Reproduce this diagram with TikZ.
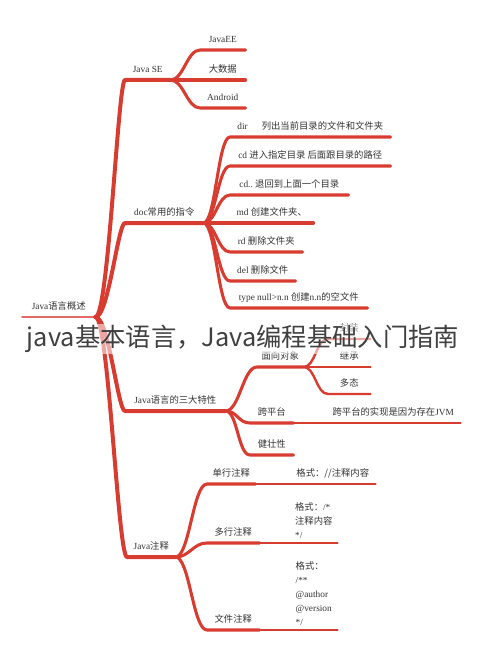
\documentclass[tikz,border=0pt]{standalone}
\usepackage{fontspec}
\setmainfont{Liberation Serif}
\newfontfamily\cjkfont{Noto Sans CJK SC}
\newcommand\zh[1]{{\cjkfont #1}}
\definecolor{mapred}{HTML}{D83B2F}

\begin{document}
\begin{tikzpicture}[x=0.75pt, y=-0.75pt,
        lbl/.style={anchor=south west, minimum width=#1*0.75pt, inner xsep=0pt,
                    inner ysep=3.5pt, text depth=2pt, text=black!80,
                    font=\fontsize{7}{8.5}\selectfont},
        note/.style={anchor=south west, minimum width=#1*0.75pt, inner xsep=0pt,
                     inner ysep=3pt, align=left, text=black!80,
                     font=\fontsize{7}{10.5}\selectfont},
        rt/.style={draw=mapred!75, line width=1.4pt, line cap=round},
        tr/.style={draw=mapred, line width=3pt, line cap=round, line join=round},
        br/.style={draw=mapred, line width=2.3pt, line cap=round, line join=round},
        lf/.style={draw=mapred, line width=1.8pt, line cap=round, line join=round},
        fan/.style={to path={.. controls +(#1,0) and +(-#1,0) .. (\tikztotarget)}},
        title/.style={font=\cjkfont\fontsize{19}{22}\selectfont, text=black!75,
                      fill=white, fill opacity=0.55, text opacity=1, inner sep=1pt}]
      \useasboundingbox (0,0) rectangle (490,663);
      % root and first level
      \node[lbl=73] (root) at (22,317) {Java\zh{语言概述}};
      \node[lbl=45] (javase) at (125,80) {Java SE};
      \node[lbl=78] (doc) at (125,223) {doc\zh{常用的指令}};
      \node[lbl=100] (feat) at (125,411) {Java\zh{语言的三大特性}};
      \node[lbl=48] (cmt) at (127,557) {Java\zh{注释}};
      % Java SE
      \node[lbl=45] (javaee) at (200,50) {JavaEE};
      \node[lbl=45] (bigdata) at (200,80) {\zh{大数据}};
      \node[lbl=45] (android) at (200,108) {Android};
      % doc
      \node[lbl=160] (dir) at (230,137) {dir\hspace{1.5em}\zh{列出当前目录的文件和文件夹}};
      \node[lbl=160] (cd) at (230,166) {cd \zh{进入指定目录 后面跟目录的路径}};
      \node[lbl=118] (cdup) at (230,195) {cd..\ \zh{退回到上面一个目录}};
      \node[lbl=83] (md) at (230,223) {md \zh{创建文件夹、}};
      \node[lbl=72] (rd) at (230,252) {rd \zh{删除文件夹}};
      \node[lbl=65] (del) at (230,281) {del \zh{删除文件}};
      \node[lbl=137] (type) at (230,308) {type null>n.n \zh{创建}n.n\zh{的空文件}};
      % features
      \node[lbl=46] (oop) at (257,367) {\zh{面向对象}};
      \node[lbl=43] (cross) at (250,423) {\zh{跨平台}};
      \node[lbl=43] (robust) at (250,455) {\zh{健壮性}};
      \node[lbl=42] (encap) at (328,339) {\zh{封装}};
      \node[lbl=42] (inherit) at (328,367) {\zh{继承}};
      \node[lbl=42] (poly) at (328,394) {\zh{多态}};
      \node[lbl=134] (jvm) at (326,423) {\zh{跨平台的实现是因为存在}JVM};
      % comments
      \node[lbl=48] (single) at (207,484) {\zh{单行注释}};
      \node[lbl=52] (multi) at (207,543) {\zh{多行注释}};
      \node[lbl=52] (file) at (207,630) {\zh{文件注释}};
      \node[lbl=85] (fmtone) at (290,484) {\zh{格式：//注释内容}};
      \node[note=47] (fmttwo) at (290,543) {\zh{格式：}/*\\\zh{注释内容}\\*/};
      \node[note=47] (fmtthree) at (290,630) {\zh{格式：}\\/**\\@author\\@version\\*/};

      \draw[rt] (root.south west) -- (root.south east);
      \draw[tr] (root.south east) .. controls +(13,0) and +(-7,0) .. (javase.south west) -- (javase.south east);
      \draw[tr] (root.south east) .. controls +(13,0) and +(-7,0) .. (doc.south west) -- (doc.south east);
      \draw[tr] (root.south east) .. controls +(13,0) and +(-7,0) .. (feat.south west) -- (feat.south east);
      \draw[tr] (root.south east) .. controls +(13,0) and +(-9,0) .. (cmt.south west) -- (cmt.south east);

      \draw[br] (javase.south east) to[fan=13] (javaee.south west) -- (javaee.south east);
      \draw[br] (javase.south east) to[fan=13] (bigdata.south west) -- (bigdata.south east);
      \draw[br] (javase.south east) to[fan=13] (android.south west) -- (android.south east);

      \draw[br] (doc.south east) to[fan=12] (dir.south west) -- (dir.south east);
      \draw[br] (doc.south east) to[fan=12] (cd.south west) -- (cd.south east);
      \draw[br] (doc.south east) to[fan=12] (cdup.south west) -- (cdup.south east);
      \draw[br] (doc.south east) to[fan=12] (md.south west) -- (md.south east);
      \draw[br] (doc.south east) to[fan=12] (rd.south west) -- (rd.south east);
      \draw[br] (doc.south east) to[fan=12] (del.south west) -- (del.south east);
      \draw[br] (doc.south east) to[fan=12] (type.south west) -- (type.south east);

      \draw[br] (feat.south east) to[fan=14] (oop.south west) -- (oop.south east);
      \draw[br] (feat.south east) to[fan=12] (cross.south west) -- (cross.south east);
      \draw[br] (feat.south east) to[fan=12] (robust.south west) -- (robust.south east);
      \draw[lf] (oop.south east) to[fan=12] (encap.south west) -- (encap.south east);
      \draw[lf] (oop.south east) to[fan=12] (inherit.south west) -- (inherit.south east);
      \draw[lf] (oop.south east) to[fan=12] (poly.south west) -- (poly.south east);
      \draw[lf] (cross.south east) -- (jvm.south west) -- (jvm.south east);

      \draw[br] (cmt.south east) to[fan=14] (single.south west) -- (single.south east);
      \draw[br] (cmt.south east) to[fan=14] (multi.south west) -- (multi.south east);
      \draw[br] (cmt.south east) to[fan=14] (file.south west) -- (file.south east);
      \draw[lf] (single.south east) -- (fmtone.south west) -- (fmtone.south east);
      \draw[lf] (multi.south east) -- (fmttwo.south west) -- (fmttwo.south east);
      \draw[lf] (file.south east) -- (fmtthree.south west) -- (fmtthree.south east);

      \node[title] (heading) at (243,339) {java基本语言，Java编程基础入门指南};
    \end{tikzpicture}
\end{document}
